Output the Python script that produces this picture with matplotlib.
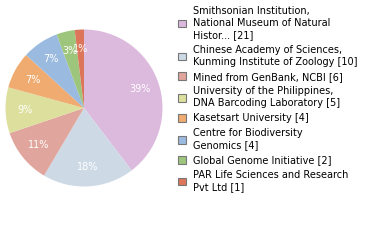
import matplotlib.pyplot as plt
from matplotlib.patches import Rectangle

labels = [
    "Smithsonian Institution,\nNational Museum of Natural\nHistor... [21]",
    "Chinese Academy of Sciences,\nKunming Institute of Zoology [10]",
    "Mined from GenBank, NCBI [6]",
    "University of the Philippines,\nDNA Barcoding Laboratory [5]",
    "Kasetsart University [4]",
    "Centre for Biodiversity\nGenomics [4]",
    "Global Genome Initiative [2]",
    "PAR Life Sciences and Research\nPvt Ltd [1]",
]
counts = [21, 10, 6, 5, 4, 4, 2, 1]
colors = ["#dcbade", "#cddae6", "#e0a59c", "#dde09d", "#efab70", "#9bbadf", "#9dc57b", "#dc7559"]

fig = plt.figure(figsize=(3.8, 2.4), dpi=100)
ax = fig.add_axes([5.5 / 380, 1 - 186.5 / 240, 157 / 380, 157 / 240])

wedges, texts, autotexts = ax.pie(
    counts, colors=colors, startangle=90, counterclock=False,
    autopct=lambda p: f"{int(p)}%", pctdistance=0.75,
    textprops=dict(color="white", fontsize=7),
)
ax.set_xlim(-1, 1)
ax.set_ylim(-1, 1)
ax.set_aspect("equal")

handles = [Rectangle((0, 0), 1, 1, facecolor=c, edgecolor="#777777", linewidth=0.8) for c in colors]
leg = fig.legend(handles, labels, loc="upper left", bbox_to_anchor=(174 / 380, 1 - 2 / 240),
                 frameon=False, fontsize=7, handlelength=0.85, handleheight=0.85,
                 handletextpad=0.7, labelspacing=0.5, borderaxespad=0)
for t in leg.get_texts():
    t.set_linespacing(1.25)

fig.savefig("out.png", dpi=100)
